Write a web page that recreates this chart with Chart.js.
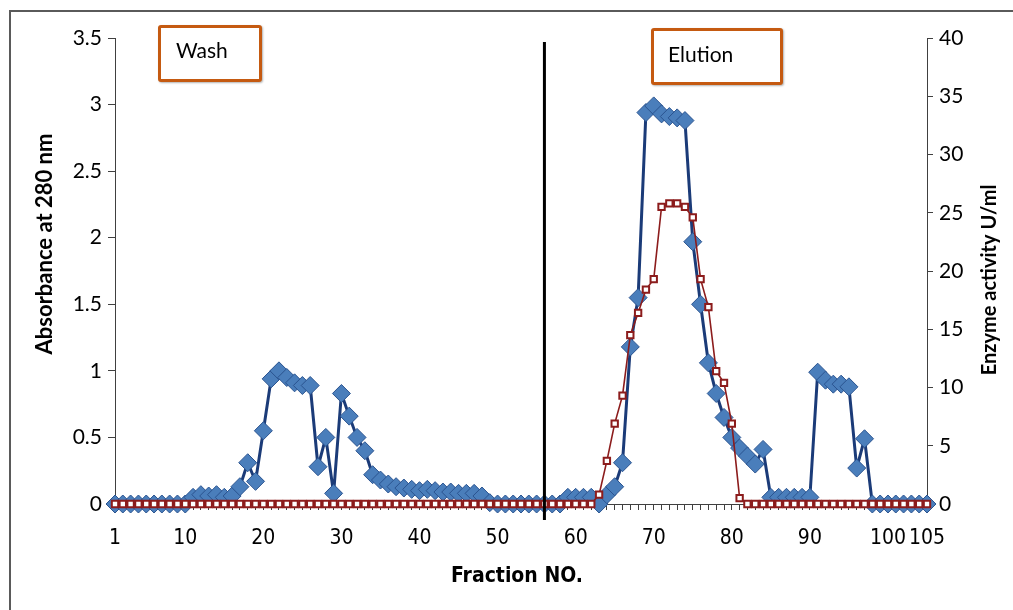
<!DOCTYPE html>
<html lang="en">
<head>
<meta charset="UTF-8">
<title>Absorbance and enzyme activity per fraction</title>
<script src="https://cdn.jsdelivr.net/npm/chart.js"></script>
<style>
  body { margin: 0; background: #fff; }
  #wrap { position: relative; width: 1013px; height: 610px; overflow: hidden; }
  #frame { position: absolute; left: 9px; top: 10px; right: -5px; bottom: -5px;
           border-top: 2px solid #5a5a5a; border-left: 2px solid #5a5a5a; }
  canvas { position: absolute; left: 0; top: 0; }
  .note { position: absolute; z-index: 2; box-sizing: border-box; background: #fff;
          border: 3px solid #c55a11; border-radius: 3px; box-shadow: 1px 1px 2px rgba(0,0,0,0.3);
          font-family: Lato, sans-serif; font-size: 21px; line-height: 24px; color: #000; }
  #wash { left: 158px; top: 25px; width: 104px; height: 57px; padding: 10px 0 0 15px; }
  #elution { left: 651px; top: 28px; width: 132px; height: 57px; padding: 11px 0 0 14px; }
</style>
</head>
<body>
<div id="wrap">
  <div id="frame"></div>
  <canvas id="chart" width="1013" height="610"></canvas>
  <div class="note" id="wash">Wash</div>
  <div class="note" id="elution">Elution</div>
</div>
<script>
// fraction numbers 1..105 on the x axis
const fractions = Array.from({ length: 105 }, (_, i) => String(i + 1));
const shownTicks = ['1', '10', '20', '30', '40', '50', '60', '70', '80', '90', '100', '105'];
const separatorFraction = '56';

// absorbance at 280 nm (left axis)
const absorbance = [
  0, 0, 0, 0, 0, 0, 0, 0, 0, 0,
  0.05, 0.07, 0.06, 0.07, 0.05, 0.06, 0.13, 0.31, 0.17, 0.55,
  0.94, 1.0, 0.95, 0.91, 0.89, 0.89, 0.28, 0.5, 0.08, 0.83,
  0.66, 0.5, 0.4, 0.22, 0.18, 0.15, 0.13, 0.12, 0.11, 0.1,
  0.11, 0.1, 0.09, 0.09, 0.08, 0.08, 0.08, 0.06, 0.01, 0,
  0, 0, 0, 0, 0, 0, 0, 0, 0.05, 0.05,
  0.05, 0.05, 0, 0.07, 0.13, 0.31, 1.18, 1.55, 2.94, 2.99,
  2.93, 2.91, 2.9, 2.88, 1.97, 1.5, 1.06, 0.83, 0.65, 0.5,
  0.42, 0.36, 0.3, 0.41, 0.05, 0.05, 0.05, 0.05, 0.05, 0.05,
  0.99, 0.93, 0.9, 0.9, 0.88, 0.27, 0.49, 0, 0, 0,
  0, 0, 0, 0, 0
];

// enzyme activity U/ml (right axis)
const enzymeActivity = [
  0, 0, 0, 0, 0, 0, 0, 0, 0, 0,
  0, 0, 0, 0, 0, 0, 0, 0, 0, 0,
  0, 0, 0, 0, 0, 0, 0, 0, 0, 0,
  0, 0, 0, 0, 0, 0, 0, 0, 0, 0,
  0, 0, 0, 0, 0, 0, 0, 0, 0, 0,
  0, 0, 0, 0, 0, 0, 0, 0, 0, 0,
  0, 0, 0.8, 3.7, 6.9, 9.3, 14.5, 16.4, 18.4, 19.3,
  25.5, 25.8, 25.8, 25.5, 24.6, 19.3, 16.9, 11.4, 10.4, 6.9,
  0.5, 0, 0, 0, 0, 0, 0, 0, 0, 0,
  0, 0, 0, 0, 0, 0, 0, 0, 0, 0,
  0, 0, 0, 0, 0
];

const axisColor = '#404040';
const tickFont = { family: 'Lato, sans-serif', size: 21 };
const narrowFont = "'Liberation Sans Narrow', 'DejaVu Sans Condensed', sans-serif";

// separator line + axis titles
const extras = {
  id: 'extras',
  afterDatasetsDraw(chart) {
    const ctx = chart.ctx;
    const area = chart.chartArea;
    const x = chart.scales.x.getPixelForValue(fractions.indexOf(separatorFraction));
    ctx.save();
    ctx.strokeStyle = '#000';
    ctx.lineWidth = 3;
    ctx.beginPath();
    ctx.moveTo(x, area.top + 4);
    ctx.lineTo(x, area.bottom + 16);
    ctx.stroke();
    ctx.restore();
  },
  afterDraw(chart) {
    const ctx = chart.ctx;
    ctx.save();
    ctx.fillStyle = '#000';
    ctx.textAlign = 'center';
    ctx.textBaseline = 'middle';

    ctx.font = 'bold 21px ' + narrowFont;
    ctx.fillText('Fraction NO.', 517, 577);

    ctx.save();
    ctx.translate(45, 244);
    ctx.rotate(-Math.PI / 2);
    ctx.font = 'bold 22px Lato, sans-serif';
    ctx.fillText('Absorbance at 280 nm', 0, 0);
    ctx.restore();

    ctx.save();
    ctx.translate(990, 280);
    ctx.rotate(-Math.PI / 2);
    ctx.font = 'bold 20px Lato, sans-serif';
    ctx.fillText('Enzyme activity U/ml', 0, 0);
    ctx.restore();

    ctx.restore();
  }
};

const plainNumber = v => String(Math.round(v * 100) / 100);

new Chart(document.getElementById('chart'), {
  type: 'line',
  data: {
    labels: fractions,
    datasets: [
      {
        label: 'Enzyme activity U/ml',
        data: enzymeActivity,
        yAxisID: 'y1',
        order: 0,
        clip: false,
        borderColor: '#8c1c1c',
        borderWidth: 1.6,
        pointStyle: 'rect',
        pointRadius: 4.5,
        pointBackgroundColor: '#fff',
        pointBorderColor: '#8c1c1c',
        pointBorderWidth: 2
      },
      {
        label: 'Absorbance at 280 nm',
        data: absorbance,
        yAxisID: 'y',
        order: 1,
        clip: false,
        borderColor: '#1b3b78',
        borderWidth: 3,
        pointStyle: 'rectRot',
        pointRadius: 9,
        pointBackgroundColor: '#4a7ebb',
        pointBorderColor: '#2b5490',
        pointBorderWidth: 1
      }
    ]
  },
  options: {
    responsive: false,
    animation: false,
    layout: { autoPadding: false, padding: { top: 38, left: 0, right: 0, bottom: 0 } },
    plugins: { legend: { display: false }, tooltip: { enabled: false } },
    scales: {
      x: {
        type: 'category',
        offset: false,
        grid: { drawOnChartArea: false, tickLength: 6, color: axisColor },
        border: { color: axisColor, width: 1 },
        ticks: {
          autoSkip: false,
          maxRotation: 0,
          minRotation: 0,
          padding: 16,
          color: '#000',
          font: { family: narrowFont, size: 21 },
          callback(value) {
            const l = this.getLabelForValue(value);
            return shownTicks.includes(l) ? l : '';
          }
        },
        afterFit(s) { s.height = 106; }
      },
      y: {
        position: 'left',
        min: 0,
        max: 3.5,
        grid: { drawOnChartArea: false, tickLength: 7, color: axisColor },
        border: { color: axisColor, width: 1 },
        ticks: { stepSize: 0.5, padding: 6, color: '#000', font: tickFont, callback: plainNumber },
        afterFit(s) { s.width = 115; }
      },
      y1: {
        position: 'right',
        min: 0,
        max: 40,
        grid: { drawOnChartArea: false, tickLength: 6, color: axisColor },
        border: { color: axisColor, width: 1 },
        ticks: { stepSize: 5, padding: 6, color: '#000', font: tickFont, callback: plainNumber },
        afterFit(s) { s.width = 86; }
      }
    }
  },
  plugins: [extras]
});
</script>
</body>
</html>
